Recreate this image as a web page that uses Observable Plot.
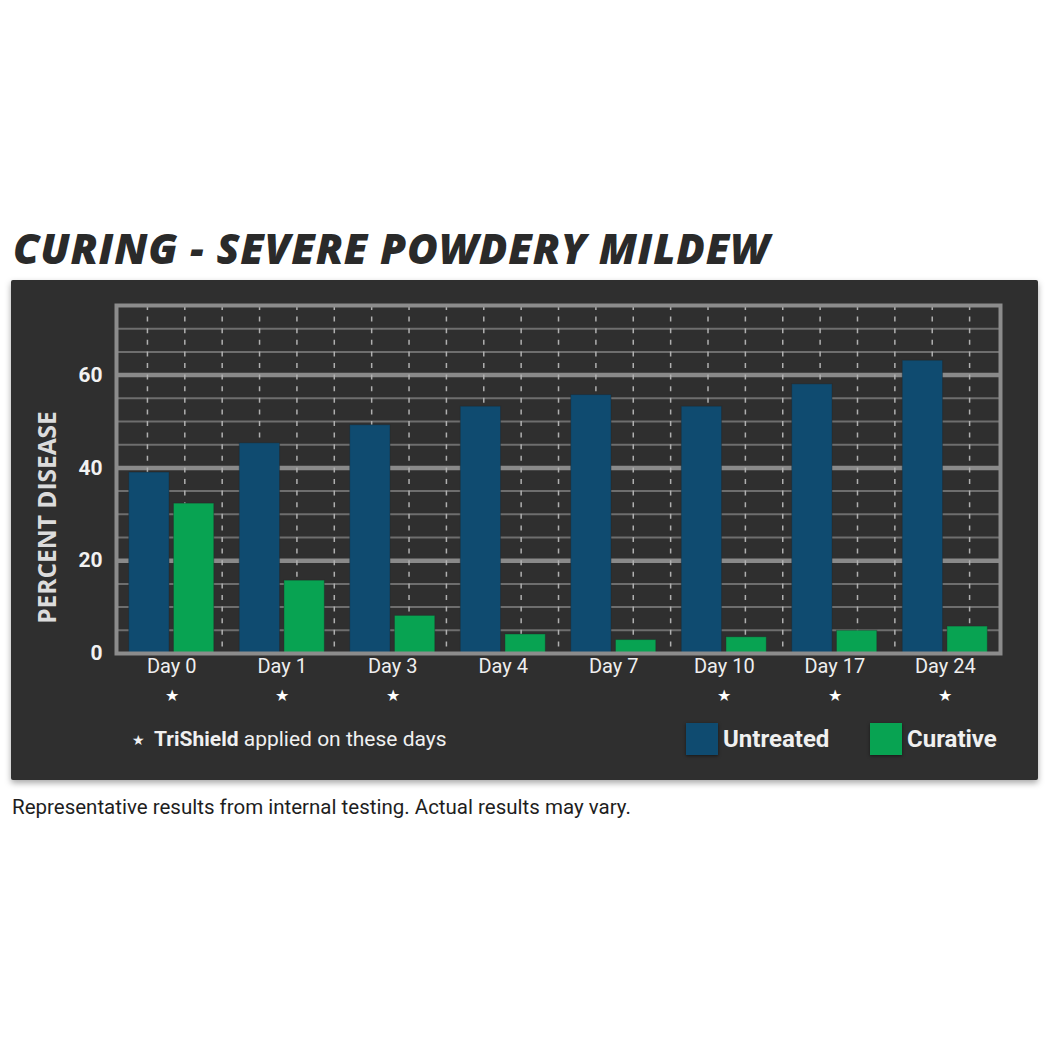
<!DOCTYPE html>
<html>
<head>
<meta charset="utf-8">
<script src="https://cdn.jsdelivr.net/npm/d3@7"></script>
<script src="https://cdn.jsdelivr.net/npm/@observablehq/plot@0.6"></script>
<style>
  html, body { margin: 0; padding: 0; background: #ffffff; }
  body { width: 1050px; height: 1050px; position: relative; overflow: hidden; font-family: Roboto, "Open Sans", sans-serif; }
  #title { position: absolute; left: 13px; top: 219px; margin: 0; font-family: "Open Sans", sans-serif; font-weight: 800; font-style: italic; font-size: 42px; color: #2a2a2a; letter-spacing: 0.8px; white-space: nowrap; }
  #panel { position: absolute; left: 11px; top: 280px; width: 1027px; height: 500px; background: #2f2f2f; border-radius: 2px; box-shadow: 0 3px 6px rgba(0,0,0,0.35); }
  #chart { position: absolute; left: 0; top: 0; }
  #legend { position: absolute; left: 0; top: 0; width: 1027px; height: 500px; pointer-events: none; color: #f0f0f0; font-family: Roboto, sans-serif; }
  .note { position: absolute; left: 121px; top: 447px; font-size: 21px; white-space: nowrap; }
  .note .star { font-size: 14px; margin-right: 9px; position: relative; top: -1px; }
  .note b { font-weight: 700; }
  .key { position: absolute; top: 443px; display: flex; align-items: center; font-size: 24px; font-weight: 700; white-space: nowrap; }
  .key .sw { width: 32px; height: 32px; margin-right: 5px; box-shadow: 0 1px 3px rgba(0,0,0,0.5); }
  #caption { position: absolute; left: 12px; top: 795px; font-size: 20.5px; color: #1e1e1e; font-family: Roboto, sans-serif; white-space: nowrap; }
</style>
</head>
<body>
<h1 id="title">CURING - SEVERE POWDERY MILDEW</h1>
<div id="panel">
  <div id="chart"></div>
  <div id="legend"></div>
</div>
<div id="caption">Representative results from internal testing. Actual results may vary.</div>
<script>
// ---- data ----
const days = ["Day 0", "Day 1", "Day 3", "Day 4", "Day 7", "Day 10", "Day 17", "Day 24"];
const untreated = [39, 45.3, 49.2, 53.2, 55.7, 53.2, 58, 63.1];
const curative = [32.3, 15.7, 8.1, 4.1, 2.9, 3.5, 4.9, 5.8];
const appliedDays = ["Day 0", "Day 1", "Day 3", "Day 10", "Day 17", "Day 24"];
const seriesNames = ["Untreated", "Curative"];
const seriesColors = ["#0f4b70", "#08a352"];
const yTicks = [0, 20, 40, 60];
const yMajorGrid = [20, 40, 60];
const yMinorGrid = [5, 10, 15, 25, 30, 35, 45, 50, 55, 65, 70];
const yLabel = "PERCENT DISEASE";

// ---- table for the library ----
const rows = [];
days.forEach((day, i) => {
  rows.push({i, day, series: "Untreated", value: untreated[i]});
  rows.push({i, day, series: "Curative", value: curative[i]});
});
const xDashed = d3.range(23).map(k => -0.22 + k * 0.3382);

const chart = Plot.plot({
  width: 1027,
  height: 430,
  marginLeft: 105,
  marginRight: 38,
  marginTop: 25,
  marginBottom: 57,
  style: {background: "transparent", color: "#eeeeee", fontFamily: "Roboto, sans-serif"},
  x: {domain: [-0.5, 7.5], axis: null},
  y: {domain: [0, 75], axis: null},
  color: {domain: seriesNames, range: seriesColors},
  marks: [
    Plot.ruleY(yMinorGrid, {stroke: "#6e6e6e", strokeWidth: 2}),
    Plot.ruleY(yMajorGrid, {stroke: "#8a8a8a", strokeWidth: 4.5}),
    Plot.ruleX(xDashed, {stroke: "#b0b0b0", strokeWidth: 1.5, strokeDasharray: "5,6.6"}),
    Plot.rectY(rows, {
      x1: d => d.i + (d.series === "Untreated" ? -0.385 : 0.02),
      x2: d => d.i + (d.series === "Untreated" ? -0.02 : 0.385),
      y1: 0,
      y2: "value",
      fill: "series",
      stroke: "#222",
      strokeOpacity: 0.35,
      strokeWidth: 1
    }),
    Plot.frame({stroke: "#8c8c8c", strokeWidth: 4}),
    Plot.axisY(yTicks, {tickSize: 0, tickPadding: 14, fontSize: 21, fontWeight: "bold", fill: "#f2f2f2", label: null}),
    Plot.axisX(d3.range(days.length), {tickSize: 0, tickPadding: 5, fontSize: 20, fill: "#eeeeee", tickFormat: i => days[i], label: null}),
    Plot.text(appliedDays, {x: d => days.indexOf(d), y: 0, text: () => "★", dy: 42, fontSize: 16, fill: "#ffffff"}),
    Plot.text([yLabel], {frameAnchor: "left", textAnchor: "middle", rotate: -90, dx: -68, dy: 38, fontSize: 24.5, fontWeight: "bold", fontFamily: "Open Sans, sans-serif", fill: "#dcdcdc", text: d => d})
  ]
});
document.getElementById("chart").appendChild(chart);

// ---- legend ----
const legend = document.getElementById("legend");
legend.innerHTML = `<div class="note"><span class="star">★</span><b>TriShield</b> applied on these days</div>`;
const keyLeft = [675, 859];
seriesNames.forEach((name, k) => {
  const div = document.createElement("div");
  div.className = "key";
  div.style.left = keyLeft[k] + "px";
  div.innerHTML = `<span class="sw" style="background:${seriesColors[k]}"></span><span>${name}</span>`;
  legend.appendChild(div);
});
</script>
</body>
</html>
